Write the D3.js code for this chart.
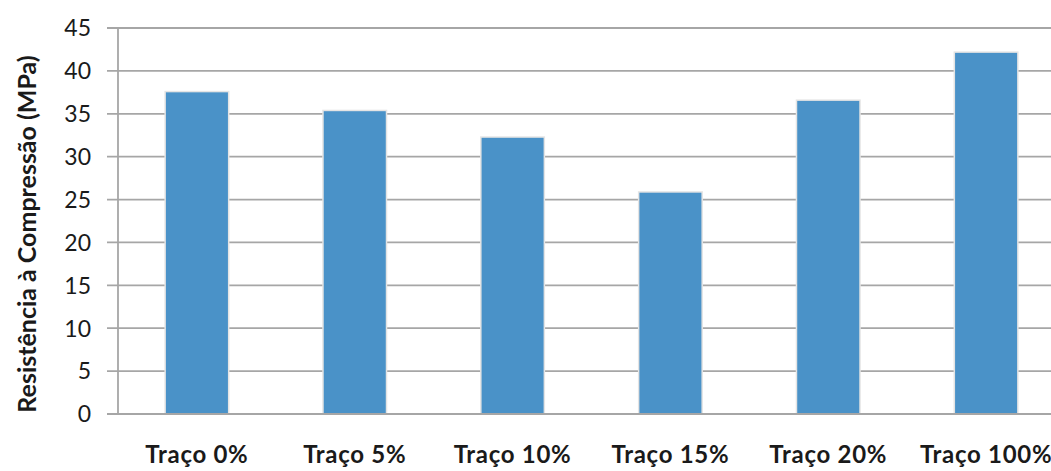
<!DOCTYPE html>
<html>
<head>
<meta charset="utf-8">
<script src="https://cdn.jsdelivr.net/npm/d3@7"></script>
<style>
  body { margin: 0; background: #fff; }
  svg text { font-family: Lato, "Open Sans", sans-serif; font-weight: bold; fill: #1a1a1a; }
</style>
</head>
<body>
<div id="chart"></div>
<script>
const categories = ["Traço 0%", "Traço 5%", "Traço 10%", "Traço 15%", "Traço 20%", "Traço 100%"];
const values = [37.5, 35.3, 32.2, 25.8, 36.5, 42.1];
const yTicks = [0, 5, 10, 15, 20, 25, 30, 35, 40, 45];
const yTitle = "Resistência à Compressão (MPa)";

const width = 1051;
const height = 471;
const plotLeft = 118, plotRight = 1065, plotTop = 28, plotBottom = 414;

const svg = d3.select("#chart").append("svg").attr("width", width).attr("height", height);

const x = d3.scaleBand().domain(categories).range([plotLeft, plotRight]).paddingInner(0.607).paddingOuter(0.3035);
const y = d3.scaleLinear().domain([0, 45]).range([plotBottom, plotTop]);

// gridlines + tick marks
svg
  .selectAll(".grid")
  .data(yTicks)
  .enter()
  .append("line")
  .attr("x1", plotLeft - 11)
  .attr("x2", width)
  .attr("y1", (d) => y(d))
  .attr("y2", (d) => y(d))
  .attr("stroke", "#a6a6a6")
  .attr("stroke-width", 1.8);

// y axis line
svg.append("line").attr("x1", plotLeft).attr("x2", plotLeft).attr("y1", plotTop).attr("y2", plotBottom)
  .attr("stroke", "#a6a6a6").attr("stroke-width", 1.8);

// bar shadows
svg
  .selectAll(".shadow")
  .data(values)
  .enter()
  .append("rect")
  .attr("x", (d, i) => x(categories[i]) - 1.5)
  .attr("y", (d) => y(d) - 1.5)
  .attr("width", x.bandwidth() + 3)
  .attr("height", (d) => plotBottom - y(d) + 1.5)
  .attr("fill", "#e4e4e4");

svg
  .selectAll(".bar")
  .data(values)
  .enter()
  .append("rect")
  .attr("class", "bar")
  .attr("x", (d, i) => x(categories[i]))
  .attr("y", (d) => y(d))
  .attr("width", x.bandwidth())
  .attr("height", (d) => plotBottom - y(d))
  .attr("fill", "#4a92c8");

// bottom axis line on top of bars
svg.append("line").attr("x1", plotLeft - 11).attr("x2", width).attr("y1", plotBottom).attr("y2", plotBottom)
  .attr("stroke", "#a6a6a6").attr("stroke-width", 1.8);

// y tick labels
svg
  .selectAll(".ylab")
  .data(yTicks)
  .enter()
  .append("text")
  .attr("x", 91)
  .attr("y", (d) => y(d))
  .attr("dy", "0.36em")
  .attr("text-anchor", "end")
  .style("font-size", "23px")
  .style("font-weight", "normal")
  .text((d) => d);

// x labels
svg
  .selectAll(".xlab")
  .data(categories)
  .enter()
  .append("text")
  .attr("x", (d) => x(d) + x.bandwidth() / 2)
  .attr("y", 463)
  .attr("text-anchor", "middle")
  .style("font-size", "24px")
  .style("letter-spacing", "0.7px")
  .text((d) => d);

svg
  .append("text")
  .attr("transform", `translate(36, 234) rotate(-90)`)
  .attr("text-anchor", "middle")
  .style("font-size", "25px")
  .text(yTitle);
</script>
</body>
</html>
